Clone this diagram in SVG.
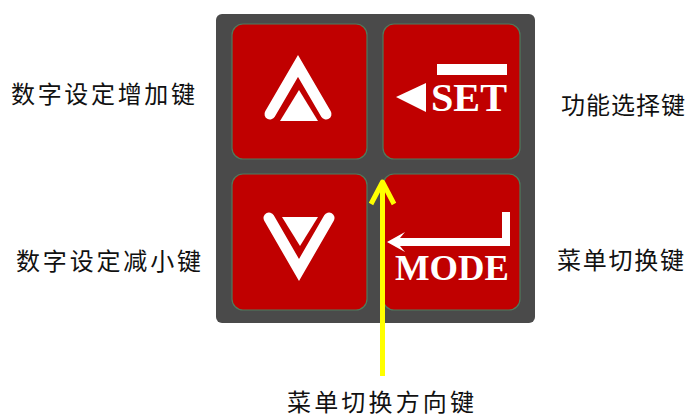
<svg xmlns="http://www.w3.org/2000/svg" width="694" height="417" viewBox="0 0 694 417">
  <style>
    .btn { fill: #c00000; stroke: #4f7a5c; stroke-width: 1.2; }
    .ico { fill: #ffffff; }
    .chev { fill: none; stroke: #ffffff; stroke-width: 11; stroke-linejoin: miter; stroke-linecap: round; stroke-miterlimit: 10; }
    .lbl { font-family: "Noto Sans CJK SC", "Noto Sans", sans-serif; font-size: 24px; fill: #111111; }
    .key { font-family: "Liberation Serif", "DejaVu Serif", serif; font-weight: bold; fill: #ffffff; }
    .conn { fill: none; stroke: #ffff00; stroke-width: 5; stroke-linecap: butt; stroke-linejoin: round; }
  </style>
  <rect x="0" y="0" width="694" height="417" fill="#ffffff"/>
  <g id="panel">
    <rect x="216" y="14" width="319" height="309" rx="6" fill="#4a4a4a"/>
  </g>
  <g id="key-up">
    <rect class="btn" x="232" y="24" width="135" height="135" rx="11"/>
    <polyline class="chev" points="270,114 298,66 326,114"/>
    <polygon class="ico" points="299,90 280,121 318,121"/>
  </g>
  <g id="key-set">
    <rect class="btn" x="383" y="24" width="137" height="135" rx="11"/>
    <rect class="ico" x="437" y="64" width="70" height="11"/>
    <polygon class="ico" points="396,97 426,83 426,112"/>
    <text class="key" x="431" y="111" font-size="40" textLength="76" lengthAdjust="spacingAndGlyphs">SET</text>
  </g>
  <g id="key-down">
    <rect class="btn" x="232" y="174" width="135" height="136" rx="11"/>
    <polyline class="chev" points="269,218 299,270 329,218"/>
    <polygon class="ico" points="282,217 318,217 300,246"/>
  </g>
  <g id="key-mode">
    <rect class="btn" x="383" y="174" width="137" height="136" rx="11"/>
    <rect class="ico" x="502" y="212" width="8" height="34"/>
    <rect class="ico" x="398" y="238" width="112" height="8"/>
    <polygon class="ico" points="387,242 405,232 400,238 400,246 405,252"/>
    <text class="key" x="395" y="280" font-size="35" textLength="114" lengthAdjust="spacingAndGlyphs">MODE</text>
  </g>
  <g id="label-inc">
    <text class="lbl" x="11" y="103" textLength="184" lengthAdjust="spacing">数字设定增加键</text>
  </g>
  <g id="label-func">
    <text class="lbl" x="561" y="114" textLength="124" lengthAdjust="spacing">功能选择键</text>
  </g>
  <g id="label-dec">
    <text class="lbl" x="16" y="269.5" textLength="185" lengthAdjust="spacing">数字设定减小键</text>
  </g>
  <g id="label-menu">
    <text class="lbl" x="557" y="269" textLength="127" lengthAdjust="spacing">菜单切换键</text>
  </g>
  <g id="label-dir">
    <text class="lbl" x="287" y="410.5" textLength="187" lengthAdjust="spacing">菜单切换方向键</text>
  </g>
  <g id="connectors">
    <line class="conn" x1="382.5" y1="376" x2="382.5" y2="184"/>
    <polyline class="conn" points="371,204 382.5,182 394,204" stroke-linecap="round"/>
  </g>
</svg>
